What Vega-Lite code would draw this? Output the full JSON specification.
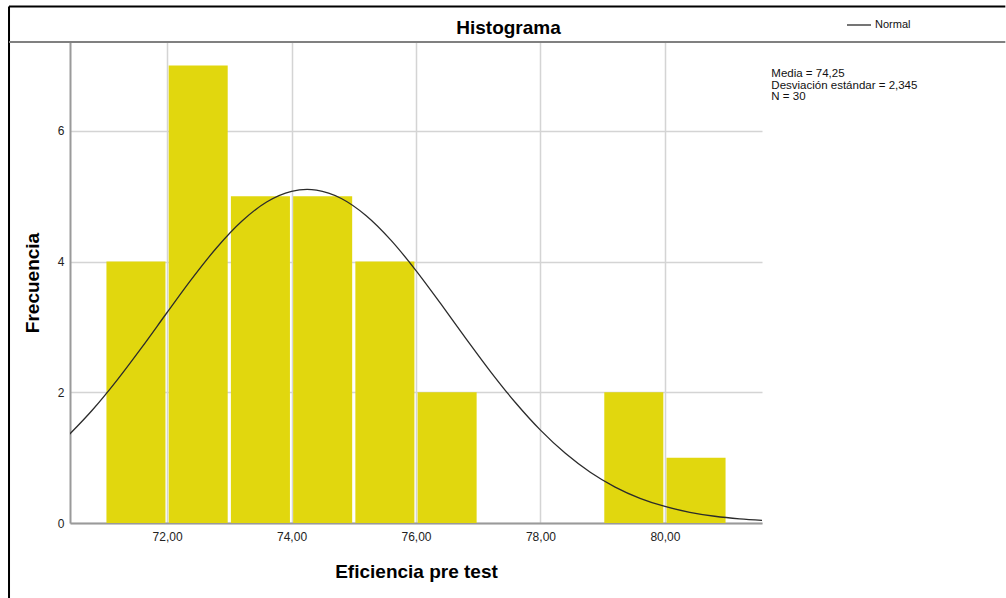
{
  "$schema": "https://vega.github.io/schema/vega-lite/v6.json",
  "autosize": "none",
  "padding": {"left": 70, "top": 42, "right": 244, "bottom": 75},
  "width": 692,
  "height": 481,
  "background": "white",
  "title": {"text": "Histograma", "font": "Liberation Sans", "fontSize": 19, "fontWeight": "bold", "color": "#000000", "anchor": "middle", "frame": "group", "dx": 92.5, "dy": 30, "offset": -17, "baseline": "alphabetic"},
  "config": {
    "font": "Liberation Sans",
    "view": {"stroke": null},
    "axis": {
      "grid": true,
      "gridColor": "#d4d4d4",
      "gridWidth": 1.5,
      "domainColor": "#9a9a9a",
      "domainWidth": 2,
      "ticks": false,
      "labelFont": "Liberation Sans",
      "labelFontSize": 12,
      "labelColor": "#222222",
      "titleFont": "Liberation Sans",
      "titleFontSize": 19,
      "titleFontWeight": "bold",
      "titleColor": "#000000"
    }
  },
  "datasets": {
    "bins": [
      {"start": 71, "end": 72, "count": 4},
      {"start": 72, "end": 73, "count": 7},
      {"start": 73, "end": 74, "count": 5},
      {"start": 74, "end": 75, "count": 5},
      {"start": 75, "end": 76, "count": 4},
      {"start": 76, "end": 77, "count": 2},
      {"start": 79, "end": 80, "count": 2},
      {"start": 80, "end": 81, "count": 1}
    ],
    "curve": [
      {"x": 70.4, "y": 1.326},
      {"x": 70.8, "y": 1.729},
      {"x": 71.2, "y": 2.191},
      {"x": 71.6, "y": 2.695},
      {"x": 72.0, "y": 3.221},
      {"x": 72.4, "y": 3.739},
      {"x": 72.8, "y": 4.216},
      {"x": 73.2, "y": 4.617},
      {"x": 73.6, "y": 4.912},
      {"x": 74.0, "y": 5.075},
      {"x": 74.25, "y": 5.104},
      {"x": 74.4, "y": 5.094},
      {"x": 74.8, "y": 4.966},
      {"x": 75.2, "y": 4.702},
      {"x": 75.6, "y": 4.325},
      {"x": 76.0, "y": 3.863},
      {"x": 76.4, "y": 3.352},
      {"x": 76.8, "y": 2.826},
      {"x": 77.2, "y": 2.314},
      {"x": 77.6, "y": 1.840},
      {"x": 78.0, "y": 1.421},
      {"x": 78.4, "y": 1.066},
      {"x": 78.8, "y": 0.777},
      {"x": 79.2, "y": 0.550},
      {"x": 79.6, "y": 0.378},
      {"x": 80.0, "y": 0.253},
      {"x": 80.4, "y": 0.164},
      {"x": 80.8, "y": 0.103},
      {"x": 81.2, "y": 0.063},
      {"x": 81.6, "y": 0.038}
    ]
  },
  "layer": [
    {
      "data": {"name": "bins"},
      "mark": {"type": "bar", "color": "#E1D70E", "xOffset": 1.6, "x2Offset": -1.6},
      "encoding": {
        "x": {
          "field": "start", "type": "quantitative",
          "scale": {"domain": [70.44, 81.56], "nice": false, "zero": false},
          "title": "Eficiencia pre test",
          "axis": {"values": [72, 74, 76, 78, 80], "labelExpr": "replace(format(datum.value, '.2f'), '.', ',')", "labelPadding": 8, "titlePadding": 20}
        },
        "x2": {"field": "end"},
        "y": {
          "field": "count", "type": "quantitative",
          "scale": {"domain": [0, 7.36], "nice": false},
          "title": "Frecuencia",
          "axis": {"values": [0, 2, 4, 6], "format": "d", "labelPadding": 6, "titlePadding": 15}
        },
        "y2": {"datum": 0}
      }
    },
    {
      "data": {"name": "curve"},
      "mark": {"type": "line", "clip": true, "strokeWidth": 1.3, "interpolate": "monotone"},
      "encoding": {
        "x": {"field": "x", "type": "quantitative"},
        "y": {"field": "y", "type": "quantitative"},
        "color": {
          "datum": "Normal", "type": "nominal",
          "scale": {"range": ["#2b2b2b"]},
          "legend": {"title": null, "orient": "none", "legendX": 776, "legendY": -30, "symbolType": "stroke", "symbolSize": 576, "symbolStrokeWidth": 1.3, "labelFont": "Liberation Sans", "labelFontSize": 11, "labelColor": "#111111", "labelOffset": 3, "padding": 0}
        }
      }
    },
    {
      "data": {"values": [{}]},
      "mark": {"type": "text", "text": ["Media = 74,25", "Desviación estándar = 2,345", "N = 30"], "align": "left", "baseline": "top", "font": "Liberation Sans", "fontSize": 11.5, "lineHeight": 11.5, "color": "#111111"},
      "encoding": {"x": {"datum": 81.71}, "y": {"datum": 6.96}}
    },
    {
      "data": {"values": [{}]},
      "mark": {"type": "rule", "color": "#000000", "strokeWidth": 2},
      "encoding": {"x": {"datum": 69.46}, "y": {"datum": 7.903}, "y2": {"datum": -1.148}}
    },
    {
      "data": {"values": [{}]},
      "mark": {"type": "rule", "color": "#000000", "strokeWidth": 2},
      "encoding": {"x": {"datum": 69.46}, "x2": {"datum": 85.47}, "y": {"datum": 7.903}}
    },
    {
      "data": {"values": [{}]},
      "mark": {"type": "rule", "color": "#808080", "strokeWidth": 2},
      "encoding": {"x": {"datum": 69.46}, "x2": {"datum": 85.47}, "y": {"datum": 7.36}}
    }
  ]
}
